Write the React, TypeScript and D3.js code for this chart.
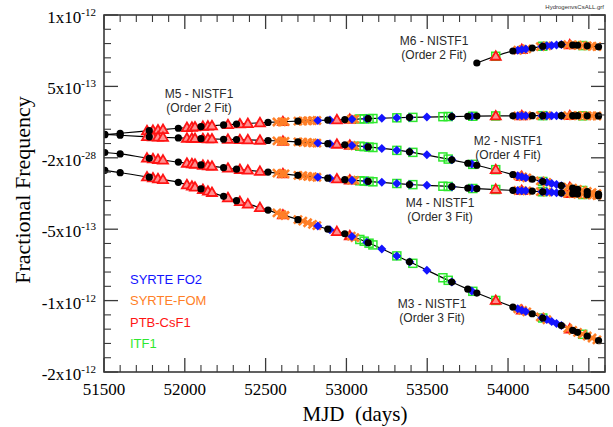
import React from "react";
import * as d3 from "d3";

// ---------- data (frequency values in units of 1e-13) ----------
const NIST_MJD = [51505, 51600, 51780, 51960, 52100, 52240, 52320, 52515, 52700, 52885, 52990, 53135, 53390, 53652, 53751, 53807, 54030, 54150, 54215, 54330, 54400, 54430, 54490, 54560];
const NIST_M5 = [1.62, 1.72, 1.90, 2.07, 2.19, 2.30, 2.36, 2.48, 2.57, 2.64, 2.68, 2.74, 2.83, 2.89, 2.91, 2.92, 2.94, 2.95, 2.95, 2.95, 2.95, 2.95, 2.94, 2.93];
const NIST_M2 = [1.64, 1.58, 1.47, 1.39, 1.34, 1.30, 1.28, 1.21, 1.11, 0.99, 0.91, 0.76, 0.42, -0.14, -0.38, -0.52, -1.17, -1.50, -1.66, -1.95, -2.13, -2.21, -2.36, -2.55];
const NIST_M4 = [0.37, 0.27, -0.04, -0.30, -0.50, -0.69, -0.80, -1.00, -1.23, -1.43, -1.53, -1.65, -1.87, -2.02, -2.12, -2.16, -2.28, -2.33, -2.38, -2.46, -2.51, -2.54, -2.58, -2.66];
const NIST_M3 = [-0.88, -1.04, -1.36, -1.72, -2.18, -2.70, -3.00, -3.66, -4.33, -5.00, -5.32, -5.95, -7.28, -8.70, -9.20, -9.47, -10.45, -10.92, -11.22, -11.75, -12.08, -12.22, -12.48, -12.80];
const NIST_M6 = [null, null, null, null, null, null, null, null, null, null, null, null, null, null, null, 6.64, 7.48, 7.69, 7.81, 7.93, 7.90, 7.88, 7.84, 7.77];

const PTB_MJD = [51766, 51803, 51834, 51865, 52013, 52044, 52063, 52112, 52143, 52168, 52267, 52341, 52390, 52465, 52607, 52941, 53021, 53924, 54085, 54382];
const PTB_M5 = [1.89, 1.92, 1.95, 1.98, 2.12, 2.14, 2.16, 2.20, 2.22, 2.24, 2.32, 2.37, 2.40, 2.45, 2.53, 2.66, 2.69, 2.93, 2.94, 2.95];
const PTB_M2 = [1.48, 1.46, 1.45, 1.43, 1.37, 1.36, 1.35, 1.34, 1.33, 1.32, 1.29, 1.27, 1.26, 1.23, 1.16, 0.95, 0.88, -0.83, -1.32, -2.08];
const PTB_M4 = [-0.02, -0.07, -0.12, -0.16, -0.38, -0.42, -0.45, -0.52, -0.56, -0.59, -0.73, -0.82, -0.87, -0.95, -1.12, -1.48, -1.56, -2.21, -2.30, -2.50];
const PTB_M3 = [-1.34, -1.41, -1.47, -1.53, -1.89, -1.99, -2.06, -2.22, -2.34, -2.43, -2.80, -3.07, -3.24, -3.49, -4.00, -5.17, -5.46, -9.99, -10.67, -11.99];
const PTB_M6 = [null, null, null, null, null, null, null, null, null, null, null, null, null, null, null, null, null, 7.11, 7.58, 7.91];

const FOM_MJD = [52570, 52600, 52620, 52700, 52730, 52760, 52790, 52817, 53030, 53052, 54060, 54090, 54116, 54200, 54240, 54370, 54400, 54430, 54460, 54490, 54520, 54550];
const FOM_M5 = [2.51, 2.52, 2.53, 2.57, 2.58, 2.59, 2.60, 2.61, 2.70, 2.71, 2.94, 2.94, 2.95, 2.95, 2.95, 2.95, 2.95, 2.95, 2.94, 2.94, 2.94, 2.93];
const FOM_M2 = [1.18, 1.16, 1.15, 1.11, 1.09, 1.07, 1.05, 1.03, 0.87, 0.84, -1.25, -1.34, -1.41, -1.62, -1.72, -2.05, -2.13, -2.21, -2.28, -2.36, -2.44, -2.51];
const FOM_M4 = [-1.07, -1.11, -1.13, -1.23, -1.26, -1.30, -1.33, -1.36, -1.56, -1.58, -2.29, -2.30, -2.32, -2.37, -2.40, -2.49, -2.51, -2.54, -2.56, -2.58, -2.61, -2.64];
const FOM_M3 = [-3.86, -3.97, -4.04, -4.33, -4.44, -4.55, -4.66, -4.75, -5.49, -5.59, -10.57, -10.69, -10.79, -11.15, -11.34, -11.94, -12.08, -12.22, -12.35, -12.48, -12.62, -12.75];
const FOM_M6 = [null, null, null, null, null, null, null, null, null, null, 7.53, 7.58, 7.63, 7.78, 7.84, 7.92, 7.90, 7.88, 7.86, 7.84, 7.81, 7.78];

const FO2_MJD = [52823, 52898, 53034, 53126, 53219, 53312, 53392, 53498, 53652, 53776, 54060, 54085, 54110, 54210, 54240, 54270, 54300, 54330];
const FO2_M5 = [2.62, 2.64, 2.70, 2.74, 2.77, 2.80, 2.83, 2.86, 2.89, 2.91, 2.94, 2.94, 2.95, 2.95, 2.95, 2.95, 2.95, 2.95];
const FO2_M2 = [1.03, 0.98, 0.87, 0.77, 0.65, 0.52, 0.42, 0.21, -0.14, -0.44, -1.25, -1.32, -1.39, -1.65, -1.72, -1.80, -1.87, -1.95];
const FO2_M4 = [-1.36, -1.44, -1.57, -1.64, -1.72, -1.80, -1.87, -1.93, -2.02, -2.14, -2.29, -2.30, -2.31, -2.38, -2.40, -2.42, -2.44, -2.46];
const FO2_M3 = [-4.77, -5.04, -5.51, -5.91, -6.39, -6.87, -7.29, -7.87, -8.70, -9.32, -10.57, -10.67, -10.76, -11.20, -11.33, -11.47, -11.61, -11.75];
const FO2_M6 = [null, null, null, null, null, null, null, null, null, null, 7.53, 7.58, 7.62, 7.80, 7.84, 7.87, 7.90, 7.93];

const ITF_MJD = [53083, 53110, 53140, 53164, 53312, 53411, 53597, 53630, 53782, 53924, 54215, 54462];
const ITF_M5 = [2.72, 2.73, 2.74, 2.75, 2.80, 2.83, 2.88, 2.89, 2.91, 2.93, 2.95, 2.94];
const ITF_M2 = [0.81, 0.78, 0.75, 0.72, 0.52, 0.38, 0.06, -0.09, -0.46, -0.83, -1.66, -2.29];
const ITF_M4 = [-1.61, -1.63, -1.65, -1.68, -1.80, -1.88, -1.99, -2.01, -2.15, -2.22, -2.38, -2.57];
const ITF_M3 = [-5.72, -5.84, -5.98, -6.10, -6.87, -7.39, -8.40, -8.58, -9.35, -9.99, -11.22, -12.36];
const ITF_M6 = [null, null, null, null, null, null, null, null, null, 7.11, 7.81, 7.86];

const X_MAJOR = [51500, 52000, 52500, 53000, 53500, 54000, 54500];
const Y_MAJOR = [10, 5, 0, -5, -10, -15];
const Y_LABELS: [string, string][] = [["1x10", "-12"], ["5x10", "-13"], ["-2x10", "-28"], ["-5x10", "-13"], ["-1x10", "-12"], ["-2x10", "-12"]];

const LEGEND = ["SYRTE FO2", "SYRTE-FOM", "PTB-CsF1", "ITF1"];
const ANNOTATIONS = [
  { l1: "M6 - NISTF1", l2: "(Order 2 Fit)", x: 434, y: 45 },
  { l1: "M5 - NISTF1", l2: "(Order 2 Fit)", x: 199, y: 98 },
  { l1: "M2 - NISTF1", l2: "(Order 4 Fit)", x: 508, y: 145 },
  { l1: "M4 - NISTF1", l2: "(Order 3 Fit)", x: 440, y: 207 },
  { l1: "M3 - NISTF1", l2: "(Order 3 Fit)", x: 432, y: 308 },
];

// ---------- layout ----------
const W = 613, H = 427;
const L = 104, R = 605, T = 15, B = 372;
const C_BLUE = "#1414ff", C_ORANGE = "#ff7f27", C_RED = "#ff1414", C_GREEN = "#2ee82e";
const SERIF = "'Liberation Serif', 'Times New Roman', serif";
const SANS = "'Liberation Sans', Arial, sans-serif";

type Pt = { x: number; y: number };
function pts(mjd: number[], vals: (number | null)[]): Pt[] {
  const out: Pt[] = [];
  mjd.forEach((m, i) => { const v = vals[i]; if (v !== null && v !== undefined) out.push({ x: m, y: v }); });
  return out;
}

export default function App() {
  const x = d3.scaleLinear().domain([51500, 54600]).range([L, R]);
  const y = d3.scaleLinear().domain([-15, 10]).range([B, T]);

  const masersNist = [NIST_M5, NIST_M2, NIST_M4, NIST_M3, NIST_M6].map(v => pts(NIST_MJD, v));
  const ptb = [PTB_M5, PTB_M2, PTB_M4, PTB_M3, PTB_M6].flatMap(v => pts(PTB_MJD, v));
  const fom = [FOM_M5, FOM_M2, FOM_M4, FOM_M3, FOM_M6].flatMap(v => pts(FOM_MJD, v));
  const fo2 = [FO2_M5, FO2_M2, FO2_M4, FO2_M3, FO2_M6].flatMap(v => pts(FO2_MJD, v));
  const itf = [ITF_M5, ITF_M2, ITF_M4, ITF_M3, ITF_M6].flatMap(v => pts(ITF_MJD, v));

  const line = d3.line<Pt>().x(d => x(d.x)).y(d => y(d.y)).curve(d3.curveCatmullRom.alpha(0.5));

  const xMinor = d3.range(51500, 54601, 100).filter(v => v % 500 !== 0);
  const yMinor = d3.range(-15, 10.01, 1).filter(v => Math.round(v) % 5 !== 0);
  const axisColor = "#3a3a3a";
  const MAJ = 14, MIN = 7;

  return (
    <svg width={W} height={H} style={{ position: "absolute", left: 0, top: 0, background: "#fff" }}>
      <rect x={0} y={0} width={W} height={H} fill="#fff" />
      <text x={604} y={9} fontFamily={SANS} fontSize={6} fill="#333" textAnchor="end">HydrogenvsCsALL.grf</text>

      {/* fit lines */}
      {masersNist.map((p, i) => (
        <path key={"l" + i} d={line(p) || ""} fill="none" stroke="#000" strokeWidth={1.2} />
      ))}

      {/* ITF1 open squares */}
      {itf.map((d, i) => (
        <rect key={"g" + i} x={x(d.x) - 4} y={y(d.y) - 4} width={8} height={8} fill="none" stroke={C_GREEN} strokeWidth={1.5} />
      ))}
      {/* PTB triangles */}
      {ptb.map((d, i) => {
        const cx = x(d.x), cy = y(d.y);
        return <path key={"r" + i} d={`M${cx},${cy - 5}L${cx + 5},${cy + 3.5}L${cx - 5},${cy + 3.5}Z`} fill="#ff9090" stroke={C_RED} strokeWidth={1.8} />;
      })}
      {/* SYRTE-FOM crosses */}
      {fom.map((d, i) => {
        const cx = x(d.x), cy = y(d.y), s = 4;
        return <path key={"o" + i} d={`M${cx - s},${cy - s}L${cx + s},${cy + s}M${cx - s},${cy + s}L${cx + s},${cy - s}`} stroke={C_ORANGE} strokeWidth={2.6} />;
      })}
      {/* SYRTE FO2 diamonds */}
      {fo2.map((d, i) => {
        const cx = x(d.x), cy = y(d.y), s = 4.5;
        return <path key={"b" + i} d={`M${cx},${cy - s}L${cx + s},${cy}L${cx},${cy + s}L${cx - s},${cy}Z`} fill={C_BLUE} />;
      })}
      {/* NIST circles */}
      {masersNist.flat().map((d, i) => (
        <circle key={"c" + i} cx={x(d.x)} cy={y(d.y)} r={3.6} fill="#000" />
      ))}

      {/* frame cover so markers at the edge stay clean */}
      <rect x={0} y={0} width={L} height={H} fill="#fff" />
      <rect x={R} y={0} width={W - R} height={H} fill="#fff" />

      {/* axes frame */}
      <rect x={L} y={T} width={R - L} height={B - T} fill="none" stroke={axisColor} strokeWidth={1.6} />
      {X_MAJOR.map(v => (
        <g key={"xm" + v}>
          <line x1={x(v)} x2={x(v)} y1={B} y2={B - MAJ} stroke={axisColor} strokeWidth={1.3} />
          <line x1={x(v)} x2={x(v)} y1={T} y2={T + MAJ} stroke={axisColor} strokeWidth={1.3} />
          <text x={x(v)} y={395} textAnchor="middle" fontFamily={SERIF} fontSize={17} fill="#000">{v}</text>
        </g>
      ))}
      {xMinor.map(v => (
        <g key={"xn" + v}>
          <line x1={x(v)} x2={x(v)} y1={B} y2={B - MIN} stroke={axisColor} strokeWidth={1.1} />
          <line x1={x(v)} x2={x(v)} y1={T} y2={T + MIN} stroke={axisColor} strokeWidth={1.1} />
        </g>
      ))}
      {Y_MAJOR.map((v, i) => (
        <g key={"ym" + v}>
          <line x1={L} x2={L + MAJ} y1={y(v)} y2={y(v)} stroke={axisColor} strokeWidth={1.3} />
          <line x1={R} x2={R - MAJ} y1={y(v)} y2={y(v)} stroke={axisColor} strokeWidth={1.3} />
          <text x={96} y={y(v) + 8} textAnchor="end" fontFamily={SERIF} fontSize={17} fill="#000">
            {Y_LABELS[i][0]}
            <tspan fontSize={11} dy={-7}>{Y_LABELS[i][1]}</tspan>
          </text>
        </g>
      ))}
      {yMinor.map(v => (
        <g key={"yn" + v}>
          <line x1={L} x2={L + MIN} y1={y(v)} y2={y(v)} stroke={axisColor} strokeWidth={1.1} />
          <line x1={R} x2={R - MIN} y1={y(v)} y2={y(v)} stroke={axisColor} strokeWidth={1.1} />
        </g>
      ))}

      {/* axis titles */}
      <text x={355} y={421} textAnchor="middle" fontFamily={SERIF} fontSize={21} fill="#000" style={{ whiteSpace: "pre" }}>{"MJD  (days)"}</text>
      <text transform="translate(30,190) rotate(-90)" textAnchor="middle" fontFamily={SERIF} fontSize={22} fill="#000">Fractional Frequency</text>

      {/* annotations */}
      {ANNOTATIONS.map(a => (
        <g key={a.l1} fontFamily={SANS} fontSize={12} fill="#2a2a2a" textAnchor="middle">
          <text x={a.x} y={a.y}>{a.l1}</text>
          <text x={a.x} y={a.y + 14}>{a.l2}</text>
        </g>
      ))}

      {/* legend */}
      {LEGEND.map((s, i) => (
        <text key={s} x={130} y={284 + i * 21.3} fontFamily={SANS} fontSize={13} fill={[C_BLUE, C_ORANGE, C_RED, C_GREEN][i]}>{s}</text>
      ))}
    </svg>
  );
}
